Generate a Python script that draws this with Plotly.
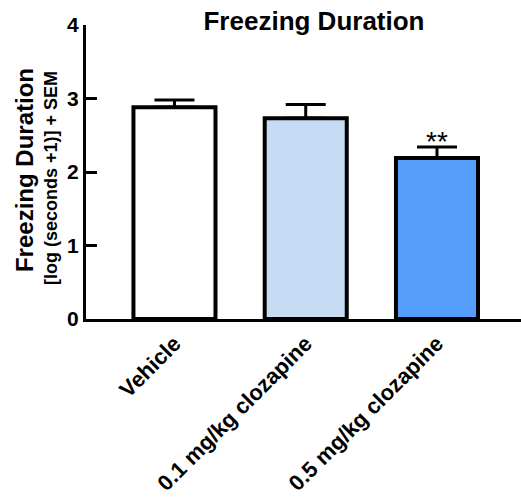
import plotly.graph_objects as go

categories = ["Vehicle", "0.1 mg/kg clozapine", "0.5 mg/kg clozapine"]
means = [2.88, 2.73, 2.19]
sems = [0.10, 0.19, 0.15]
bar_colors = ["#FFFFFF", "#C6DCF4", "#559EFB"]
y_ticks = [0, 1, 2, 3, 4]
significance = ["", "", "**"]

FONT = "Liberation Sans, Arial, sans-serif"

fig = go.Figure()
fig.add_trace(go.Bar(
    x=list(range(len(categories))),
    y=means,
    width=0.625,
    marker=dict(color=bar_colors, line=dict(color="black", width=4)),
    error_y=dict(type="data", array=sems, arrayminus=[0] * len(sems), symmetric=False,
                 color="black", thickness=3, width=20),
    showlegend=False,
))

for i, s in enumerate(significance):
    if s:
        fig.add_annotation(x=i, y=means[i] + sems[i], text=s, showarrow=False,
                           xref="x", yref="y", yanchor="bottom", yshift=-12,
                           font=dict(family=FONT, size=28, color="black"))

fig.add_annotation(text="Freezing Duration", xref="paper", yref="paper",
                   x=-0.140, y=0.507, textangle=-90, showarrow=False,
                   xanchor="center", yanchor="middle",
                   font=dict(family=FONT, size=24, color="black", weight="bold"))
fig.add_annotation(text="[log (seconds +1)] + SEM", xref="paper", yref="paper",
                   x=-0.080, y=0.480, textangle=-90, showarrow=False,
                   xanchor="center", yanchor="middle",
                   font=dict(family=FONT, size=18, color="black", weight="bold"))

fig.update_layout(
    width=521, height=500,
    margin=dict(l=86, r=0, t=25, b=181),
    plot_bgcolor="white", paper_bgcolor="white",
    hovermode=False,
    title=dict(text="Freezing Duration", x=314 / 521, xanchor="center",
               y=1 - 21 / 500, yanchor="middle",
               font=dict(family=FONT, size=26, color="black", weight="bold")),
    xaxis=dict(
        range=[-0.674, 2.64],
        tickmode="array", tickvals=list(range(len(categories))), ticktext=categories,
        tickangle=-45, ticks="", showline=True, linecolor="black", linewidth=3,
        showgrid=False, zeroline=False,
        tickfont=dict(family=FONT, size=22, color="black", weight="bold"),
    ),
    yaxis=dict(
        range=[0, 4], tickmode="array", tickvals=y_ticks,
        ticks="inside", ticklen=11, tickwidth=3, tickcolor="black",
        showline=True, linecolor="black", linewidth=3,
        showgrid=False, zeroline=False,
        tickfont=dict(family=FONT, size=21, color="black", weight="bold"),
    ),
)

fig.write_html("out.html", config={"displayModeBar": False},
               post_script="document.body.style.margin='0';document.body.style.overflow='hidden';")
